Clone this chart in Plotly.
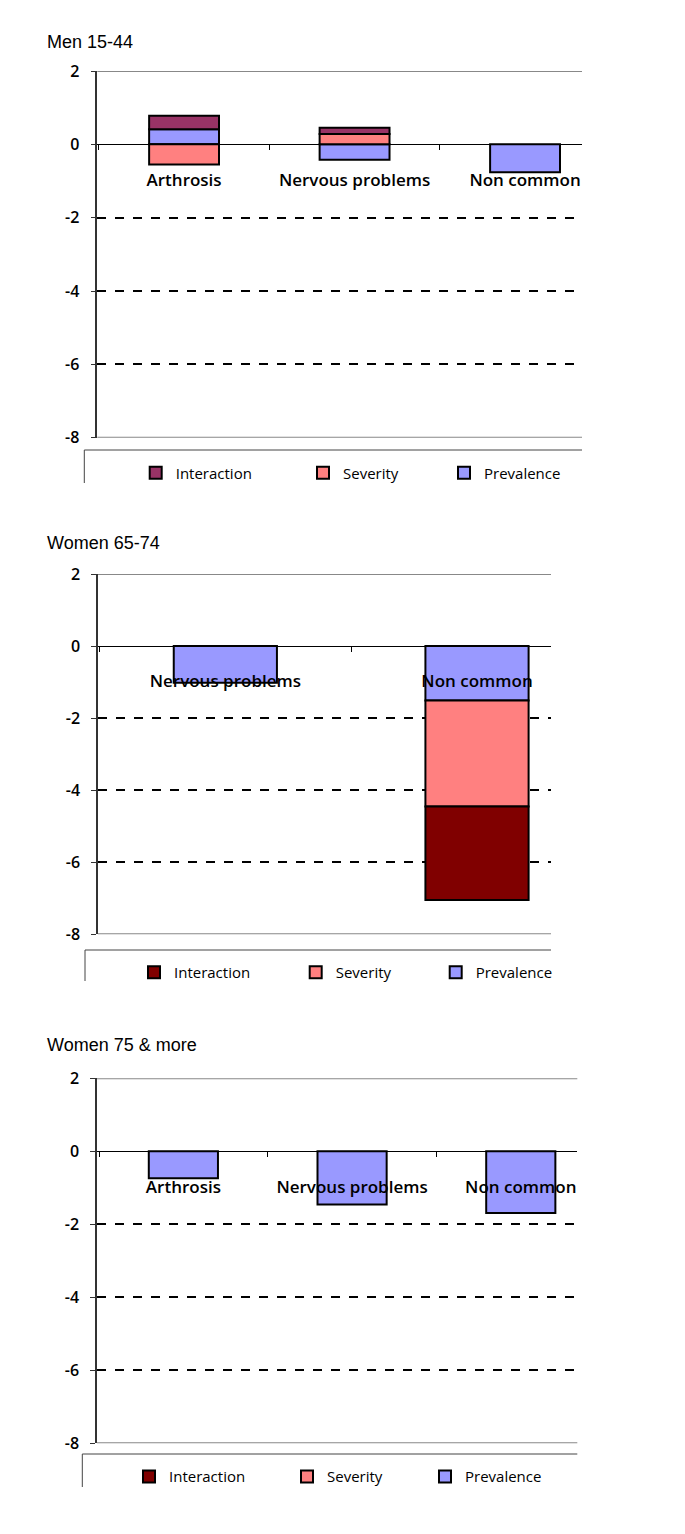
import plotly.graph_objects as go

# the page adds an 8px body margin, so the figure is drawn 16px smaller
page_width, page_height = 685, 1534
page_margin = 8
fig_width, fig_height = page_width - 2 * page_margin, page_height - 2 * page_margin

series_names = ["Prevalence", "Severity", "Interaction"]
prevalence_color = "#9999FF"
severity_color = "#FF8080"

# Men 15-44
men_15_44_categories = ["Arthrosis", "Nervous problems", "Non common"]
men_15_44_prevalence = [0.41, -0.42, -0.76]
men_15_44_severity = [-0.55, 0.28, None]
men_15_44_interaction = [0.37, 0.17, None]

# Women 65-74
women_65_74_categories = ["Nervous problems", "Non common"]
women_65_74_prevalence = [-1.02, -1.51]
women_65_74_severity = [None, -2.94]
women_65_74_interaction = [None, -2.60]

# Women 75 & more
women_75_categories = ["Arthrosis", "Nervous problems", "Non common"]
women_75_prevalence = [-0.74, -1.46, -1.69]
women_75_severity = [None, None, None]
women_75_interaction = [None, None, None]

y_ticks = [-8, -6, -4, -2, 0, 2]
y_tick_labels = ["-8", "-6", "-4", "-2", "0", "2"]
y_range = [-8, 2]

# panel geometry in page pixels; legend_x is the symbol position for
# Prevalence, Severity, Interaction (legend reads right to left)
panels = [
    dict(title="Men 15-44", categories=men_15_44_categories,
         values=[men_15_44_prevalence, men_15_44_severity, men_15_44_interaction],
         interaction_color="#993366",
         top=71, bottom=437.7, left=97.3, right=582, x_range=[-0.509, 2.334],
         title_y=42, box_top=450, box_bottom=483, box_left=84.3,
         legend_y=473, legend_x=[465, 324, 156.7]),
    dict(title="Women 65-74", categories=women_65_74_categories,
         values=[women_65_74_prevalence, women_65_74_severity, women_65_74_interaction],
         interaction_color="#800000",
         top=574, bottom=934.3, left=98, right=551, x_range=[-0.506, 1.294],
         title_y=543, box_top=950, box_bottom=981, box_left=85,
         legend_y=972.5, legend_x=[456.7, 316.7, 155]),
    dict(title="Women 75 & more", categories=women_75_categories,
         values=[women_75_prevalence, women_75_severity, women_75_interaction],
         interaction_color="#800000",
         top=1078.3, bottom=1443.3, left=97, right=577.3, x_range=[-0.512, 2.335],
         title_y=1045, box_top=1454, box_bottom=1487, box_left=82.3,
         legend_y=1476.7, legend_x=[446, 308, 150]),
]

label_font = dict(family="Open Sans", size=17, color="black", weight=600)
tick_font = dict(family="Open Sans", size=16, color="black", weight=600)
legend_font = dict(family="Open Sans", size=15, color="black")


def px_x(x):
    return (x - page_margin) / fig_width


def px_y(y):
    return 1 - (y - page_margin) / fig_height


fig = go.Figure()
shapes = []
annotations = []
layout_axes = {}
legends = {}
legend_counter = 0

for i, p in enumerate(panels):
    n = "" if i == 0 else str(i + 1)
    xa, ya = "x" + n, "y" + n
    colors = [prevalence_color, severity_color, p["interaction_color"]]

    for name, vals, color, lx in zip(series_names, p["values"], colors, p["legend_x"]):
        legend_counter += 1
        leg = "legend" if legend_counter == 1 else f"legend{legend_counter}"
        fig.add_trace(go.Bar(
            x=p["categories"], y=vals, name=name, xaxis=xa, yaxis=ya,
            marker=dict(color=color, line=dict(color="black", width=2)),
            legend=leg,
        ))
        legends[leg] = dict(
            x=px_x(lx - 21), y=px_y(p["legend_y"]), xanchor="left", yanchor="middle",
            orientation="h", font=legend_font, bgcolor="rgba(0,0,0,0)",
            borderwidth=0,
        )

    y_dom = [px_y(p["bottom"]), px_y(p["top"])]
    x_dom = [px_x(p["left"]), px_x(p["right"])]
    zero_pos = y_dom[0] + (0 - y_range[0]) / (y_range[1] - y_range[0]) * (y_dom[1] - y_dom[0])

    layout_axes["xaxis" + n] = dict(
        domain=x_dom, range=p["x_range"], type="category",
        anchor="free", position=zero_pos, automargin=False,
        showline=True, linecolor="black", linewidth=1,
        ticks="outside", tickson="boundaries", ticklen=5, tickcolor="black",
        tickfont=label_font, ticklabelstandoff=20, showgrid=False,
    )
    layout_axes["yaxis" + n] = dict(
        domain=y_dom, range=y_range, anchor=xa, automargin=False,
        tickvals=y_ticks, ticktext=y_tick_labels,
        showline=True, linecolor="#333333", linewidth=1.5,
        ticks="outside", ticklen=5, tickcolor="#333333",
        tickfont=tick_font, ticklabelstandoff=8,
        showgrid=True, gridcolor="black", gridwidth=1.5, griddash="dash",
        zeroline=True, zerolinecolor="black", zerolinewidth=1,
    )

    # grey top and bottom borders of the plot area
    for yv in (y_range[1], y_range[0]):
        shapes.append(dict(type="line", xref=xa + " domain", yref=ya, x0=0, x1=1, y0=yv, y1=yv,
                           line=dict(color="#888888", width=2), layer="above"))

    # legend frame (cropped, only top and left edges visible)
    shapes.append(dict(type="line", xref="paper", yref="paper",
                       x0=px_x(p["box_left"]), x1=px_x(p["right"]),
                       y0=px_y(p["box_top"]), y1=px_y(p["box_top"]),
                       line=dict(color="#444444", width=1)))
    shapes.append(dict(type="line", xref="paper", yref="paper",
                       x0=px_x(p["box_left"]), x1=px_x(p["box_left"]),
                       y0=px_y(p["box_top"]), y1=px_y(p["box_bottom"]),
                       line=dict(color="#444444", width=1)))

    annotations.append(dict(text=p["title"], xref="paper", yref="paper",
                            x=px_x(45), y=px_y(p["title_y"]), xanchor="left", yanchor="middle",
                            showarrow=False, font=dict(family="Liberation Sans", size=18, color="black")))

fig.update_layout(
    width=fig_width, height=fig_height,
    margin=dict(l=0, r=0, t=0, b=0, autoexpand=False),
    paper_bgcolor="white", plot_bgcolor="white",
    barmode="relative", bargap=0.59,
    showlegend=True,
    shapes=shapes, annotations=annotations,
    **layout_axes, **legends,
)

fig.write_html("out.html")
